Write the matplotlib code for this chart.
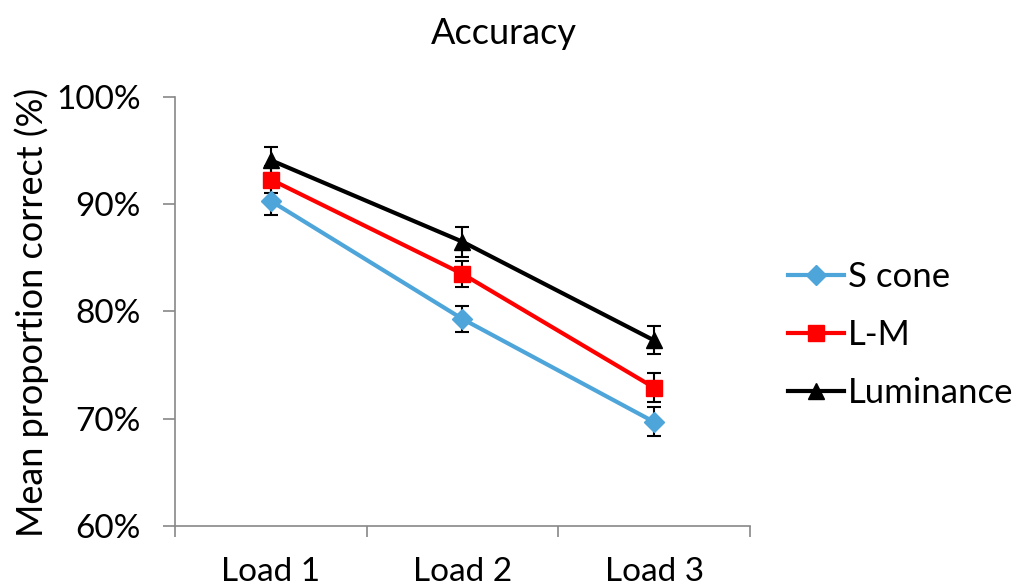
import matplotlib.pyplot as plt
from matplotlib.ticker import FuncFormatter

# Mean accuracy per memory load, with standard error
loads = ['Load 1', 'Load 2', 'Load 3']
s_cone = [90.3, 79.3, 69.7]
s_cone_err = [1.3, 1.25, 1.35]
l_m = [92.3, 83.5, 72.9]
l_m_err = [1.3, 1.2, 1.35]
luminance = [94.1, 86.5, 77.3]
luminance_err = [1.2, 1.4, 1.3]

plt.rcParams['font.family'] = ['Lato', 'DejaVu Sans']

fig = plt.figure(figsize=(10.14, 5.87), dpi=100)
ax = fig.add_axes([0.1726, 0.1039, 0.567, 0.731])

x = [1, 2, 3]
series = [
    ('S cone', s_cone, s_cone_err, '#4EA5DA', 'D', 10),
    ('L-M', l_m, l_m_err, '#FF0000', 's', 11.5),
    ('Luminance', luminance, luminance_err, '#000000', '^', 11),
]
for label, vals, errs, color, marker, ms in series:
    ax.errorbar(x, vals, yerr=errs, fmt='none', ecolor='black',
                elinewidth=1.5, capsize=4.8, capthick=1.5, zorder=2)
    ax.plot(x, vals, color=color, marker=marker, markersize=ms,
            linewidth=3, label=label, zorder=3)

ax.set_xlim(0.5, 3.5)
ax.set_ylim(60, 100)
ax.set_yticks([60, 70, 80, 90, 100])
ax.yaxis.set_major_formatter(FuncFormatter(lambda v, p: f'{v:.0f}%'))
ax.set_xticks(x)
ax.set_xticklabels(loads)
ax.set_xticks([0.5, 1.5, 2.5, 3.5], minor=True)
ax.tick_params(axis='x', which='major', length=0, labelsize=24, pad=22)
ax.tick_params(axis='x', which='minor', length=8, color='#888888', width=1.2)
ax.tick_params(axis='y', length=8.5, color='#888888', width=1.2, labelsize=24, pad=16)

for side in ['top', 'right']:
    ax.spines[side].set_visible(False)
for side in ['left', 'bottom']:
    ax.spines[side].set_color('#888888')
    ax.spines[side].set_linewidth(1.2)

fig.text(32 / 1014, 1 - 312 / 587, 'Mean proportion correct (%)', fontsize=26,
         rotation=90, ha='center', va='center')
fig.text(0.497, 1 - 33 / 587, 'Accuracy', fontsize=26, ha='center', va='center')

ax.legend(loc='center left', bbox_to_anchor=(788 / 1014, 1 - 335 / 587),
          bbox_transform=fig.transFigure, frameon=False, borderpad=0,
          borderaxespad=0, fontsize=25, handlelength=1.6, handletextpad=0.12,
          labelspacing=0.75)

fig.savefig('out.png', dpi=100)
